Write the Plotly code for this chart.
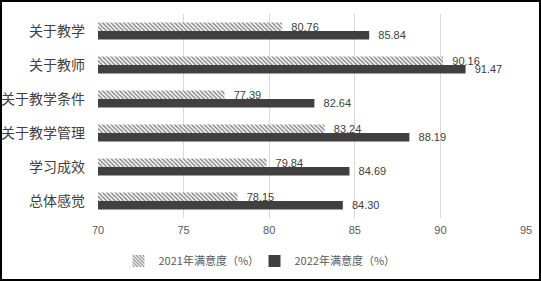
import plotly.graph_objects as go

categories = ["关于教学", "关于教师", "关于教学条件", "关于教学管理", "学习成效", "总体感觉"]
values_2021 = [80.76, 90.16, 77.39, 83.24, 79.84, 78.15]
values_2022 = [85.84, 91.47, 82.64, 88.19, 84.69, 84.30]
series_names = ["2021年满意度（%）", "2022年满意度（%）"]
x_ticks = [70, 75, 80, 85, 90, 95]

W, H = 541, 281
ml, mr, mt, mb = 98, 15, 14, 63
pw, ph = W - ml - mr, H - mt - mb

num_font = "Liberation Sans, Arial, sans-serif"
cjk_font = "Noto Sans CJK SC, sans-serif"
dark = "#404040"

fig = go.Figure()
fig.add_trace(go.Bar(
    y=categories, x=values_2021, name=series_names[0], orientation="h",
    marker=dict(color="white", line=dict(width=0),
                pattern=dict(shape="\\", size=3, solidity=0.5, fgcolor="#111111", bgcolor="white")),
    text=["\u00a0\u00a0" + f"{v:.2f}" for v in values_2021],
    textposition="outside", cliponaxis=False, constraintext="none",
    textfont=dict(family=num_font, size=11, color=dark),
))
fig.add_trace(go.Bar(
    y=categories, x=values_2022, name=series_names[1], orientation="h",
    marker=dict(color=dark, line=dict(width=0)),
    text=["\u00a0\u00a0" + f"{v:.2f}" for v in values_2022],
    textposition="outside", cliponaxis=False, constraintext="none",
    textfont=dict(family=num_font, size=11, color=dark),
))

fig.update_layout(
    width=W, height=H,
    margin=dict(l=ml, r=mr, t=mt, b=mb, autoexpand=False),
    barmode="group", bargap=0.5, bargroupgap=0,
    plot_bgcolor="white", paper_bgcolor="white",
    showlegend=True,
    legend=dict(orientation="h", x=(W / 2 - 16 - ml) / pw, xanchor="center",
                y=-(261 - (mt + ph)) / ph, yanchor="middle",
                font=dict(family=cjk_font, size=11, color="#595959"),
                itemwidth=30, entrywidth=91, entrywidthmode="pixels",
                traceorder="normal"),
    xaxis=dict(range=[70, 95], tickvals=x_ticks, showgrid=True, gridcolor="#d9d9d9",
               gridwidth=1, zeroline=False, showline=False, ticks="",
               ticklabelstandoff=4,
               tickfont=dict(family=num_font, size=11, color="#595959")),
    yaxis=dict(autorange="reversed", showgrid=False, showline=False, ticks="",
               ticklabelstandoff=12,
               tickfont=dict(family=cjk_font, size=14, color=dark)),
    shapes=[dict(type="rect", xref="paper", yref="paper",
                 x0=-(ml - 1) / pw, x1=(pw + mr - 1) / pw,
                 y0=-(mb - 1) / ph, y1=(ph + mt - 1) / ph,
                 line=dict(color="black", width=2), layer="below")],
)

fig.write_html("out.html")
